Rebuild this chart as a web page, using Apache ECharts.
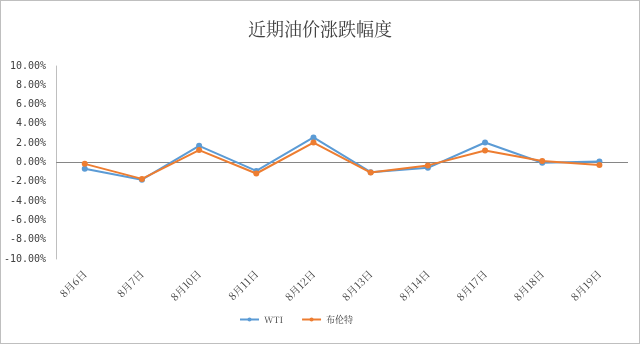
<!DOCTYPE html>
<html>
<head>
<meta charset="utf-8">
<script src="https://cdn.jsdelivr.net/npm/echarts@6/dist/echarts.min.js"></script>
<style>
  html, body { margin: 0; padding: 0; background: #fff; }
  #chart { width: 638px; height: 342px; border: 1px solid #bfbfbf; }
</style>
</head>
<body>
<div id="chart"></div>
<script>
// 近期油价涨跌幅度 (%)
const dates = ['8月6日', '8月7日', '8月10日', '8月11日', '8月12日', '8月13日', '8月14日', '8月17日', '8月18日', '8月19日'];
const wti = [-0.65, -1.78, 1.73, -0.87, 2.60, -1.00, -0.55, 2.07, -0.03, 0.10];
const brent = [-0.14, -1.70, 1.29, -1.14, 2.07, -1.04, -0.30, 1.24, 0.15, -0.25];
const seriesNames = ['WTI', '布伦特'];

const serif = '"Noto Serif CJK SC", "Noto Sans CJK SC", "Liberation Serif", serif';
const chart = echarts.init(document.getElementById('chart'));
chart.setOption({
  animation: false,
  backgroundColor: '#fff',
  title: {
    text: '近期油价涨跌幅度',
    left: 'center',
    top: 14,
    textStyle: { fontFamily: serif, fontWeight: 'normal', fontSize: 18, color: '#404040' }
  },
  legend: {
    data: seriesNames,
    bottom: 14,
    left: 233,
    itemWidth: 19,
    itemHeight: 5,
    itemGap: 18,
    textStyle: { fontSize: 9, color: '#404040', fontFamily: serif }
  },
  grid: { left: 55, right: 11, top: 65, bottom: 84, containLabel: false },
  xAxis: {
    type: 'category',
    data: dates,
    boundaryGap: true,
    axisLine: { show: false, onZero: false },
    axisTick: { show: false },
    axisLabel: { rotate: 45, fontSize: 10.5, color: '#404040', margin: 13, fontFamily: serif }
  },
  yAxis: {
    type: 'value',
    min: -10,
    max: 10,
    interval: 2,
    axisLine: { show: true, lineStyle: { color: '#bfbfbf', width: 1 } },
    axisTick: { show: false },
    splitLine: { show: false },
    axisLabel: {
      fontSize: 10,
      color: '#404040',
      margin: 10,
      fontFamily: '"DejaVu Sans Mono", monospace',
      formatter: v => v.toFixed(2) + '%'
    }
  },
  series: [
    {
      name: seriesNames[0],
      type: 'line',
      data: wti,
      symbol: 'circle',
      symbolSize: 6,
      lineStyle: { color: '#5b9bd5', width: 2 },
      itemStyle: { color: '#5b9bd5' },
      markLine: {
        silent: true,
        symbol: ['none', 'none'],
        label: { show: false },
        lineStyle: { color: '#868686', type: 'solid', width: 1 },
        data: [{ yAxis: 0 }],
        z: 1
      },
      z: 3
    },
    {
      name: seriesNames[1],
      type: 'line',
      data: brent,
      symbol: 'circle',
      symbolSize: 6,
      lineStyle: { color: '#ed7d31', width: 2 },
      itemStyle: { color: '#ed7d31' },
      z: 4
    }
  ]
});
</script>
</body>
</html>
